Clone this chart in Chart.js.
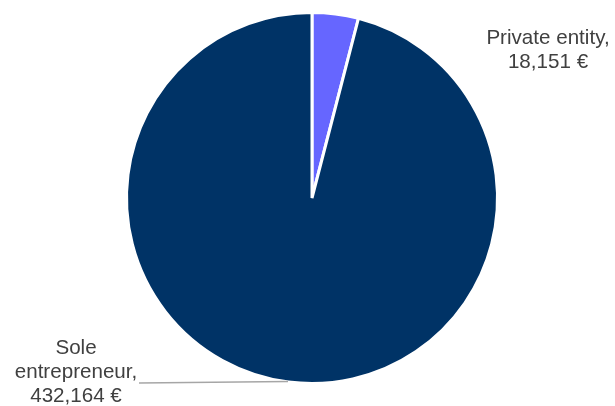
<!DOCTYPE html>
<html>
<head>
<meta charset="utf-8">
<script src="https://cdn.jsdelivr.net/npm/chart.js"></script>
<style>
  html, body { margin: 0; padding: 0; background: #fff; }
  #wrap { width: 615px; height: 406px; }
</style>
</head>
<body>
<div id="wrap"><canvas id="pieChart" width="615" height="406"></canvas></div>
<script>
const labels = ['Private entity', 'Sole entrepreneur'];
const amounts = [18151, 432164];
const colors = ['#6666ff', '#003366'];

const fmt = v => v.toLocaleString('en-US') + ' €';

// Outside labels: text block + leader line for the big slice
const sliceLabels = {
  id: 'sliceLabels',
  afterDraw(chart) {
    const ctx = chart.ctx;
    const arcs = chart.getDatasetMeta(0).data;
    const cx = arcs[0].x;
    const cy = arcs[0].y;
    const r = arcs[0].outerRadius;

    ctx.save();
    ctx.font = '20.6px "Liberation Sans", Arial, sans-serif';
    ctx.fillStyle = '#404040';
    ctx.textAlign = 'center';
    ctx.textBaseline = 'middle';

    // Private entity, top right
    const px = cx + 236, py = cy - 160;
    ctx.fillText(labels[0] + ',', px, py);
    ctx.fillText(fmt(amounts[0]), px, py + 24);

    // Sole entrepreneur, bottom left
    const sx = cx - 236, sy = cy + 150;
    ctx.fillText('Sole', sx, sy);
    ctx.fillText('entrepreneur,', sx, sy + 24);
    ctx.fillText(fmt(amounts[1]), sx, sy + 48);

    // leader line into the slice edge
    ctx.strokeStyle = '#a6a6a6';
    ctx.lineWidth = 1.5;
    ctx.beginPath();
    ctx.moveTo(sx + 63, sy + 35);
    ctx.lineTo(cx - 24, cy + r - 2);
    ctx.stroke();
    ctx.restore();
  }
};

new Chart(document.getElementById('pieChart').getContext('2d'), {
  type: 'pie',
  data: {
    labels: labels,
    datasets: [{
      data: amounts,
      backgroundColor: colors,
      borderColor: '#ffffff',
      borderWidth: 3
    }]
  },
  options: {
    responsive: false,
    animation: false,
    layout: { padding: { left: 100, right: 91, top: 11, bottom: 21 } },
    plugins: {
      legend: { display: false },
      tooltip: { enabled: false }
    }
  },
  plugins: [sliceLabels]
});
</script>
</body>
</html>
